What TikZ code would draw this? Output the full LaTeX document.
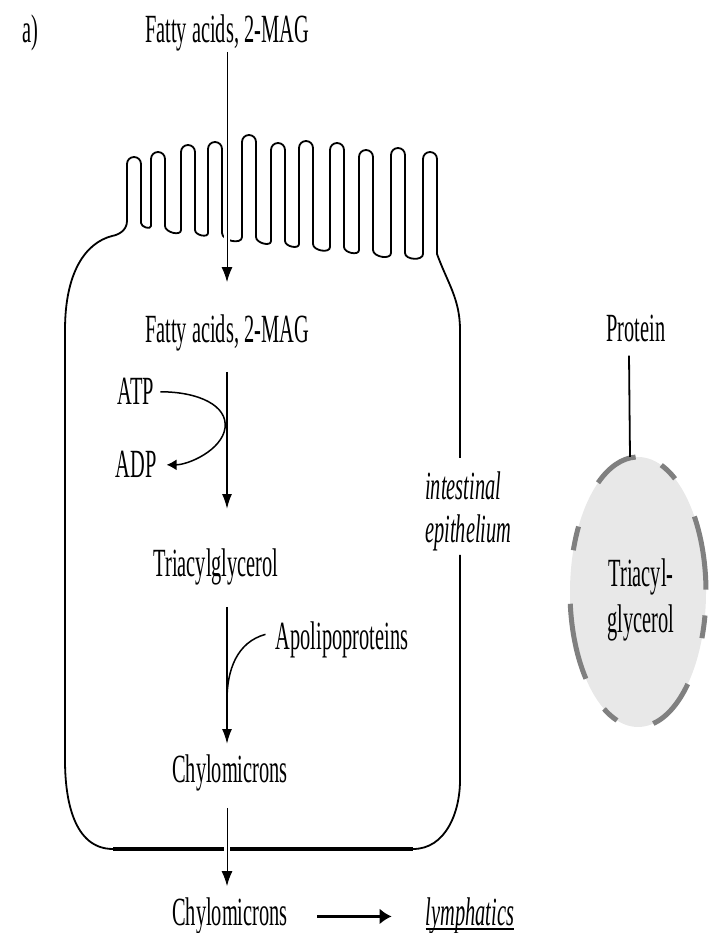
\documentclass[tikz,border=0pt]{standalone}
\usepackage{fontspec}
\setmainfont{Liberation Serif}
\usepackage{graphicx}
\usetikzlibrary{arrows.meta,shapes.geometric}
\newcommand{\narrowtext}[1]{\scalebox{0.51}[1]{#1}}
\tikzset{
  lbl/.style={font=\fontsize{40}{46}\selectfont, inner sep=0pt, anchor=base},
  ilbl/.style={lbl, font=\fontsize{40}{46}\selectfont\itshape},
  cellline/.style={line width=1.8pt},
  arr/.style={line width=1.8pt, -{Latex[length=15pt,width=10pt]}},
  thinarr/.style={line width=1pt, -{Latex[length=15pt,width=11pt]},
    preaction={draw=white, line width=6pt, -}},
  shellpiece/.style={draw=gray, line width=5pt},
}
\begin{document}
\begin{tikzpicture}[x=1pt,y=1pt]
\useasboundingbox (0,0) rectangle (717,933);

% cell with microvilli
\draw[cellline] (65,173) -- (65,603)
  .. controls (65,660) and (85,690) .. (112,697)
  to[out=10,in=-90] (127,712)
  -- (127,769) arc[start angle=180, end angle=0, radius=7] -- (141,710)
  \foreach \c/\t/\f in {158/781/707, 188/788/703, 215/791/700, 249/798/696,
      278/790/692, 306/792/689, 337/790/686, 366/783/683, 398/785/680, 430/781/679}{
    to[out=-90,in=-90] (\c-7,\f) -- (\c-7,\t-7)
    arc[start angle=180, end angle=0, radius=7] -- (\c+7,\f)
  }
  to[out=-70,in=90] (460,603) -- (460,475)
  (460,378) -- (460,153) to[out=-90,in=0] (413,84) -- (113,84)
  to[out=180,in=-90] (65,173);
\draw[line width=3.8pt] (113,84) -- (413,84);

% lipoprotein particle
\node[ellipse, fill=gray!18, inner sep=0pt, outer sep=0pt,
  minimum width=136pt, minimum height=270pt] (lipo) at (638,341) {};
\foreach \a/\b in {1/34, 57/70, 92/126, 151/162, 185/220, 240/252, 283/317, 340/350}
  \draw[shellpiece] (lipo.center) ++(\a:68 and 135)
    arc[start angle=\a, end angle=\b, x radius=68, y radius=135];

% labels
\node[lbl, anchor=base west] (panel) at (22,890) {\narrowtext{a)}};
\node[lbl] (fa1) at (227,890) {\narrowtext{Fatty acids, 2-MAG}};
\node[lbl] (fa2) at (227,590) {\narrowtext{Fatty acids, 2-MAG}};
\node[lbl] (atp) at (136,528) {\narrowtext{ATP}};
\node[lbl] (adp) at (136,455) {\narrowtext{ADP}};
\node[lbl] (tag) at (216,356) {\narrowtext{Triacylglycerol}};
\node[lbl] (apo) at (342,283) {\narrowtext{Apolipoproteins}};
\node[lbl] (chy1) at (230,150) {\narrowtext{Chylomicrons}};
\node[lbl] (chy2) at (230,7) {\narrowtext{Chylomicrons}};
\node[ilbl] (lym) at (470,7) {\narrowtext{lymphatics}};
\node[ilbl, anchor=base west] (intest) at (425,433) {\narrowtext{intestinal}};
\node[ilbl, anchor=base west] (epith) at (425,390) {\narrowtext{epithelium}};
\node[lbl] (prot) at (636,591) {\narrowtext{Protein}};
\node[lbl] (tri2a) at (641,346) {\narrowtext{Triacyl-}};
\node[lbl] (tri2b) at (641,300) {\narrowtext{glycerol}};

\coordinate (touch) at (225,505);
\coordinate (join) at (227,233);

% arrows
\draw[thinarr, shorten >=33pt] (fa1.south) -- (fa2.north);
\draw[arr, shorten <=20pt, shorten >=40pt] (fa2.south) -- (fa2.south |- tag.north);
\draw[line width=1.5pt, -{Latex[length=10pt,width=11pt]}, shorten <=6pt, shorten >=10pt]
  (atp.east) .. controls +(45,0) and +(3,22) .. (touch)
  .. controls +(-3,-22) and +(32,0) .. (adp.east);
\draw[arr, shorten <=21pt, shorten >=11pt] (fa2 |- tag.south) -- (fa2 |- chy1.north);
\draw[line width=1.5pt] ([xshift=-10pt,yshift=6pt]apo.west) to[out=195,in=90] (join);
\draw[thinarr, shorten <=16pt, shorten >=12pt] (chy1.south -| fa2) -- (chy2.north -| fa2);
\draw[line width=3.5pt, -{Latex[length=12pt,width=16pt]}, shorten <=29pt, shorten >=34pt]
  (chy2.east) -- (chy2.east -| lym.west);
\draw[line width=2pt] ([yshift=-3pt]lym.base west) -- ([yshift=-3pt]lym.base east);
\draw[line width=1.8pt] ([xshift=-7pt,yshift=-13pt]prot.south) -- ([xshift=-8pt]lipo.north);
\end{tikzpicture}
\end{document}
